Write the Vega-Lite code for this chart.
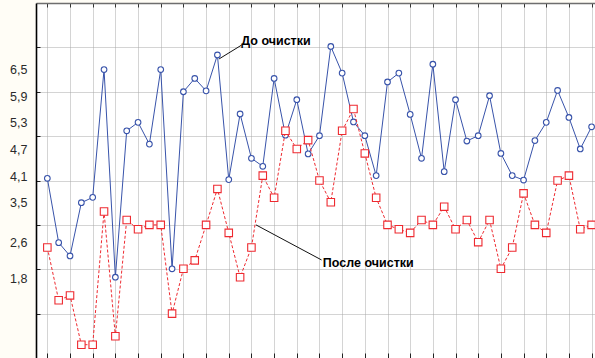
{
  "$schema": "https://vega.github.io/schema/vega-lite/v6.json",
  "width": 559,
  "height": 355,
  "autosize": {"type": "none"},
  "padding": {"left": 36, "top": 3, "right": 0, "bottom": 0},
  "background": "#fffdf6",
  "config": {
    "view": {"fill": "white", "stroke": null},
    "font": "Liberation Sans"
  },
  "datasets": {
    "series": [
      {"i": 0, "before": 4.05, "after": 2.49},
      {"i": 1, "before": 2.60, "after": 1.30},
      {"i": 2, "before": 2.30, "after": 1.41},
      {"i": 3, "before": 3.50, "after": 0.30},
      {"i": 4, "before": 3.62, "after": 0.30},
      {"i": 5, "before": 6.50, "after": 3.30},
      {"i": 6, "before": 1.82, "after": 0.49},
      {"i": 7, "before": 5.12, "after": 3.11},
      {"i": 8, "before": 5.31, "after": 2.90},
      {"i": 9, "before": 4.82, "after": 3.00},
      {"i": 10, "before": 6.50, "after": 3.00},
      {"i": 11, "before": 2.01, "after": 1.00},
      {"i": 12, "before": 6.00, "after": 2.01},
      {"i": 13, "before": 6.30, "after": 2.20},
      {"i": 14, "before": 6.02, "after": 3.00},
      {"i": 15, "before": 6.83, "after": 3.81},
      {"i": 16, "before": 4.02, "after": 2.82},
      {"i": 17, "before": 5.50, "after": 1.82},
      {"i": 18, "before": 4.50, "after": 2.49},
      {"i": 19, "before": 4.32, "after": 4.11},
      {"i": 20, "before": 6.30, "after": 3.61},
      {"i": 21, "before": 5.02, "after": 5.12},
      {"i": 22, "before": 5.82, "after": 4.71},
      {"i": 23, "before": 4.60, "after": 4.91},
      {"i": 24, "before": 5.01, "after": 4.00},
      {"i": 25, "before": 7.02, "after": 3.51},
      {"i": 26, "before": 6.42, "after": 5.12},
      {"i": 27, "before": 5.32, "after": 5.61},
      {"i": 28, "before": 5.01, "after": 4.61},
      {"i": 29, "before": 4.11, "after": 3.61},
      {"i": 30, "before": 6.22, "after": 3.00},
      {"i": 31, "before": 6.42, "after": 2.90},
      {"i": 32, "before": 5.49, "after": 2.82},
      {"i": 33, "before": 4.50, "after": 3.11},
      {"i": 34, "before": 6.62, "after": 3.00},
      {"i": 35, "before": 4.20, "after": 3.41},
      {"i": 36, "before": 5.82, "after": 2.90},
      {"i": 37, "before": 4.89, "after": 3.11},
      {"i": 38, "before": 5.01, "after": 2.61},
      {"i": 39, "before": 5.91, "after": 3.11},
      {"i": 40, "before": 4.61, "after": 2.01},
      {"i": 41, "before": 4.11, "after": 2.49},
      {"i": 42, "before": 4.01, "after": 3.71},
      {"i": 43, "before": 4.90, "after": 3.00},
      {"i": 44, "before": 5.31, "after": 2.82},
      {"i": 45, "before": 6.03, "after": 4.00},
      {"i": 46, "before": 5.42, "after": 4.11},
      {"i": 47, "before": 4.71, "after": 2.90},
      {"i": 48, "before": 5.21, "after": 3.00}
    ],
    "leaders": [
      {"x": 15.15, "y": 6.74, "x2": 17.12, "y2": 7.05},
      {"x": 18.4, "y": 3.0, "x2": 24.18, "y2": 2.21}
    ],
    "notes": [
      {"x": 17.1, "y": 7.05, "label": "До очистки"},
      {"x": 24.3, "y": 2.05, "label": "После очистки"}
    ]
  },
  "layer": [
    {
      "data": {"name": "series"},
      "mark": {
        "type": "line",
        "color": "#3853aa",
        "strokeWidth": 1,
        "point": {
          "shape": "circle",
          "filled": true,
          "fill": "white",
          "stroke": "#3853aa",
          "strokeWidth": 1.1,
          "size": 32
        }
      },
      "encoding": {
        "x": {
          "field": "i",
          "type": "quantitative",
          "scale": {"domain": [-1, 48.3], "nice": false, "zero": false},
          "axis": {
            "orient": "bottom",
            "values": [0, 2, 4, 6, 8, 10, 12, 14, 16, 18, 20, 22, 24, 26, 28, 30, 32, 34, 36, 38, 40, 42, 44, 46, 48],
            "labels": false,
            "title": null,
            "domain": false,
            "tickSize": -5,
            "tickColor": "#222",
            "grid": true,
            "gridColor": "#a8a8a8",
            "gridDash": [1, 1],
            "gridWidth": 1
          }
        },
        "y": {
          "field": "before",
          "type": "quantitative",
          "scale": {"domain": [0, 8], "nice": false, "zero": false},
          "axis": {
            "orient": "left",
            "values": [1, 2, 3, 4, 5, 6, 7],
            "labels": false,
            "title": null,
            "domain": true,
            "domainColor": "#000",
            "domainWidth": 1.6,
            "tickSize": -4,
            "tickColor": "#222",
            "grid": true,
            "gridColor": "#a8a8a8",
            "gridDash": [1, 1],
            "gridWidth": 1
          }
        }
      }
    },
    {
      "data": {"name": "series"},
      "mark": {
        "type": "line",
        "color": "#ee2a30",
        "strokeWidth": 1,
        "strokeDash": [3, 2],
        "point": {
          "shape": "square",
          "filled": true,
          "fill": "white",
          "stroke": "#ee2a30",
          "strokeWidth": 1.1,
          "size": 56
        }
      },
      "encoding": {
        "x": {
          "field": "i",
          "type": "quantitative",
          "axis": {
            "orient": "top",
            "values": [0, 2, 4, 6, 8, 10, 12, 14, 16, 18, 20, 22, 24, 26, 28, 30, 32, 34, 36, 38, 40, 42, 44, 46, 48],
            "labels": false,
            "title": null,
            "domain": true,
            "domainColor": "#6e6e6e",
            "domainWidth": 1.6,
            "tickSize": -4,
            "tickColor": "#333",
            "grid": false
          }
        },
        "y": {
          "field": "after",
          "type": "quantitative",
          "axis": {
            "orient": "left",
            "values": [6.5, 5.9, 5.3, 4.7, 4.1, 3.5, 2.6, 1.8],
            "labelExpr": "replace(format(datum.value, '.1f'), '.', ',')",
            "labelFont": "Liberation Sans",
            "labelFontSize": 12.5,
            "labelColor": "#2a2a2a",
            "labelPadding": 9,
            "title": null,
            "domain": false,
            "ticks": false,
            "grid": false
          }
        }
      }
    },
    {
      "data": {"name": "leaders"},
      "mark": {"type": "rule", "color": "#111", "strokeWidth": 1},
      "encoding": {
        "x": {"field": "x", "type": "quantitative", "axis": null},
        "y": {"field": "y", "type": "quantitative", "axis": null},
        "x2": {"field": "x2"},
        "y2": {"field": "y2"}
      }
    },
    {
      "data": {"name": "notes"},
      "mark": {
        "type": "text",
        "align": "left",
        "baseline": "alphabetic",
        "font": "Liberation Sans",
        "fontSize": 12.5,
        "fontWeight": "bold",
        "color": "#000"
      },
      "encoding": {
        "x": {"field": "x", "type": "quantitative", "axis": null},
        "y": {"field": "y", "type": "quantitative", "axis": null},
        "text": {"field": "label"}
      }
    }
  ],
  "resolve": {"axis": {"x": "independent", "y": "independent"}}
}
